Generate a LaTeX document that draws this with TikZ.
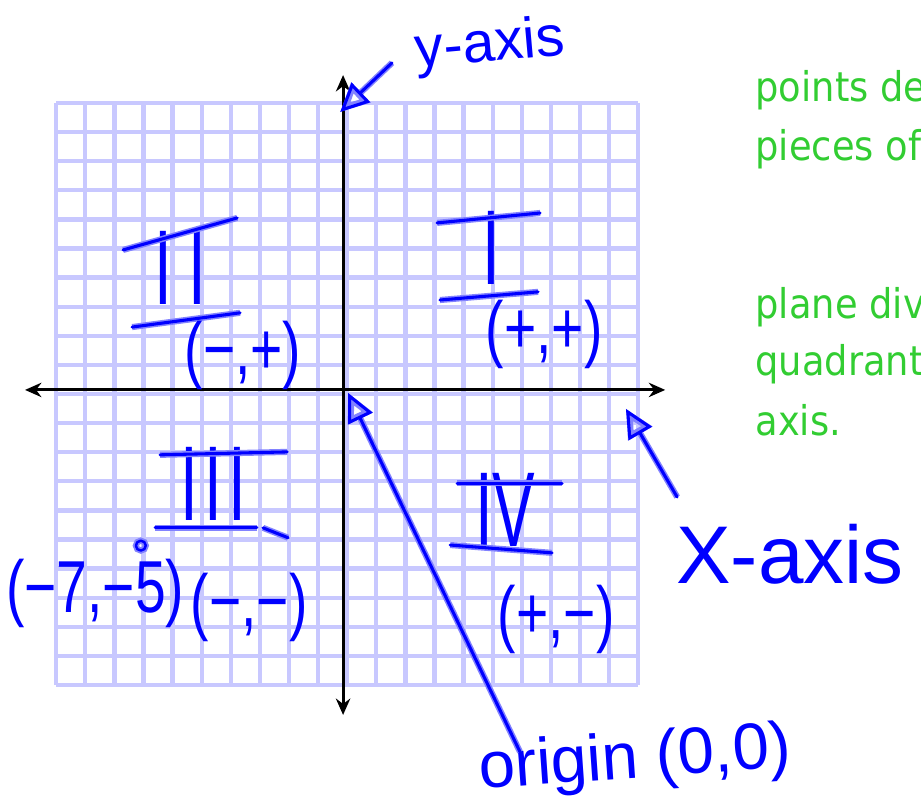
\documentclass[tikz,border=0pt]{standalone}
\usepackage{fontspec}
\usepackage{tikz}
\usetikzlibrary{arrows.meta}
\newfontfamily\notefont{DejaVu Sans}[FakeStretch=0.9]
\newfontfamily\handfont{Liberation Sans}[FakeStretch=0.75]
\newfontfamily\numfont{Liberation Sans}[FakeStretch=0.6]
\newfontfamily\wordfont{Liberation Sans}
\definecolor{gridblue}{RGB}{200,200,255}
\definecolor{notegreen}{RGB}{50,205,50}
\definecolor{inkblue}{RGB}{0,0,255}
\definecolor{inkhalo}{RGB}{130,130,255}

\begin{document}
\begin{tikzpicture}[x=0.5cm, y=0.5cm,
  gridline/.style={draw=gridblue, line width=2.1pt},
  axis/.style={line width=1.5pt, {Stealth[length=8pt,width=7pt]}-{Stealth[length=8pt,width=7pt]}},
  ink/.style={draw=inkblue, line width=1.5pt, line cap=round, line join=round,
    preaction={draw=inkhalo, line width=3pt}},
  inkarrow/.style={ink, -{Triangle[open, length=14pt, width=13pt]}},
  numeral/.style={text=inkblue, inner sep=0pt, font=\numfont\fontsize{52}{52}\selectfont},
  pair/.style={text=inkblue, inner sep=0pt, font=\handfont\fontsize{36}{36}\selectfont},
  word/.style={text=inkblue, inner sep=0pt, font=\wordfont\fontsize{#1}{#1}\selectfont},
  note/.style={text=notegreen, anchor=base west, inner sep=0pt, font=\notefont\fontsize{20}{20}\selectfont}]
  \useasboundingbox (-11.79,-14.16) rectangle (19.86,13.40);
  \clip (-11.79,-14.16) rectangle (19.86,13.40);

  % graph paper
  \begin{scope}[shift={(0.14,-0.14)}]
    \draw[gridline] (-10,-10) grid[step=1] (10,10);
  \end{scope}

  % axes
  \coordinate (xl) at (-10.93,0);
  \coordinate (xr) at (11.07,0);
  \coordinate (yb) at (0,-11.17);
  \coordinate (yt) at (0,10.82);
  \draw[axis] (xl) -- (xr);
  \draw[axis] (yb) -- (yt);

  % quadrant numbers
  \node[numeral] (qii) at (-5.6,4.19) {I\kern.15em I};
  \draw[ink] ([shift={(-1.96,0.62)}]qii.center) -- ([shift={(1.96,1.72)}]qii.center);
  \draw[ink] ([shift={(-1.65,-2.03)}]qii.center) -- ([shift={(2.06,-1.54)}]qii.center);

  \node[numeral] (qi) at (5.09,4.88) {I};
  \draw[ink] ([shift={(-1.86,0.86)}]qi.center) -- ([shift={(1.68,1.20)}]qi.center);
  \draw[ink] ([shift={(-1.76,-1.79)}]qi.center) -- ([shift={(1.61,-1.51)}]qi.center);

  \node[numeral] (qiii) at (-4.47,-3.23) {I\kern.06em I\kern.06em I};
  \draw[ink] ([shift={(-1.82,1.00)}]qiii.center) -- ([shift={(2.55,1.10)}]qiii.center);
  \draw[ink] ([shift={(-1.99,-1.51)}]qiii.center) -- ([shift={(1.51,-1.51)}]qiii.center);
  \draw[ink] ([shift={(1.72,-1.51)}]qiii.center) -- ([shift={(2.58,-1.85)}]qiii.center);

  \node[numeral] (qiv) at (5.57,-4.12) {IV};
  \draw[ink] ([shift={(-1.65,0.92)}]qiv.center) -- ([shift={(1.96,0.92)}]qiv.center);
  \draw[ink] ([shift={(-1.89,-1.21)}]qiv.center) -- ([shift={(1.61,-1.48)}]qiv.center);

  % signs
  \node[pair] (mp) at (-3.44,1.20) {(−,+)};
  \node[pair] (pp) at (6.91,1.89) {(+,+)};
  \node[pair] (pt75) at (-8.52,-6.98) {(−7,−5)};
  \node[pair] (mm) at (-3.23,-7.46) {(−,−)};
  \node[pair] (pm) at (7.32,-7.90) {(+,−)};

  \coordinate (pt) at (-6.95,-5.35);
  \draw[ink, line width=1.2pt] (pt) circle (0.17);

  % labels with arrows
  \node[word=28, rotate=5] (ylab) at (5.05,11.8) {y-axis};
  \node[word=40] (xlab) at (15.36,-5.64) {X-axis};
  \node[word=32, rotate=4] (olab) at (10.03,-12.75) {origin (0,0)};

  \coordinate (ytip) at (-0.1,9.55);
  \coordinate (xtip) at (9.72,-0.65);
  \coordinate (otip) at (0.17,-0.10);
  \draw[inkarrow] ([shift={(-3.37,-0.56)}]ylab.center) -- (ytip);
  \draw[inkarrow] ([shift={(-3.88,1.96)}]xlab.center) -- (xtip);
  \draw[inkarrow] ([shift={(-3.95,0.31)}]olab.center) -- (otip);

  % notes
  \node[note] (ln1) at (14.16,9.90) {points de};
  \node[note] (ln2) at (14.16,7.87) {pieces of};
  \node[note] (ln3) at (14.16,2.47) {plane div};
  \node[note] (ln4) at (14.16,0.48) {quadrant};
  \node[note] (ln5) at (14.16,-1.55) {axis.};
\end{tikzpicture}
\end{document}
